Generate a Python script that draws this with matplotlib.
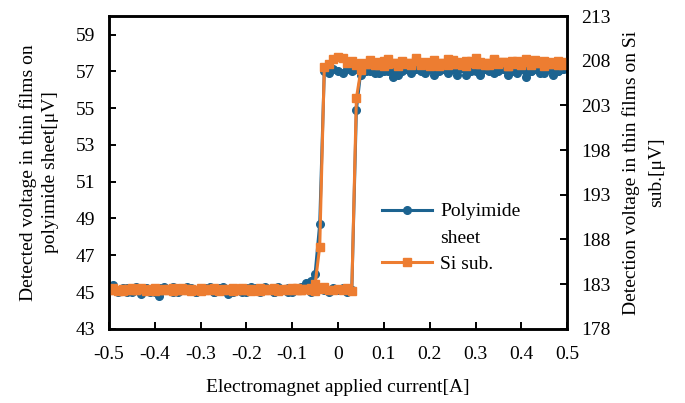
import numpy as np
import matplotlib.pyplot as plt
from matplotlib.lines import Line2D

plt.rcParams['font.family'] = ['Liberation Serif', 'DejaVu Serif']
plt.rcParams['font.size'] = 14

# current sweep settings: up -0.5 -> 0.5, then down 0.5 -> -0.5
current_up = np.round(np.linspace(-0.5, 0.5, 101), 2)
current_down = current_up[::-1]

# Polyimide sheet [uV], left axis
polyimide_up = [
    45.2, 45.4, 45.1, 45.2, 45.0, 45.2, 45.1, 44.9, 45.2, 45.1,
    45.0, 45.2, 45.3, 45.1, 45.0, 45.2, 45.1, 45.3, 45.2, 45.0,
    45.1, 45.2, 45.1, 45.0, 45.2, 45.3, 45.1, 45.0, 45.1, 45.2,
    45.0, 45.1, 45.2, 45.1, 45.3, 45.1, 45.0, 45.2, 45.1, 45.0,
    45.2, 45.1, 45.3, 45.2, 45.0, 45.1, 45.2, 45.1, 45.0, 45.2,
    45.1, 45.2, 45.0, 45.1,
    54.9,
    57.1, 57.0, 57.2, 56.9, 57.1, 57.3, 57.0, 57.1, 56.8, 57.2,
    57.1, 57.0, 57.2, 57.1, 56.9, 57.2, 57.0, 57.1, 57.3, 57.0,
    57.1, 56.8, 57.2, 57.1, 57.0, 57.2, 56.9, 57.1, 57.0, 57.2,
    57.1, 57.3, 57.0, 57.1, 56.9, 57.2, 57.1, 57.0, 57.2, 57.1,
    56.9, 57.1, 57.2, 57.0, 57.1, 57.2,
]
polyimide_down = [
    57.2, 57.1, 57.0, 56.8, 57.1, 57.2, 56.9, 57.1, 57.0, 56.7,
    57.1, 57.2, 57.0, 56.8, 57.1, 57.0, 56.9, 57.2, 57.1, 56.8,
    57.0, 57.1, 56.8, 57.2, 57.0, 57.1, 56.9, 57.1, 57.0, 56.8,
    57.1, 57.2, 57.0, 57.1, 56.9, 57.1, 57.0, 57.2, 56.7, 57.1,
    57.0, 56.9, 57.1, 57.0, 57.2, 56.8, 57.1, 57.0, 57.1, 56.9,
    57.0, 57.1, 56.9, 57.0,
    48.7, 46.0,
    45.6, 45.5, 45.2, 45.1, 45.0, 45.2, 45.1, 45.3, 45.0, 45.1,
    45.2, 45.0, 45.1, 45.3, 45.2, 45.0, 45.1, 45.2, 44.9, 45.1,
    45.2, 45.0, 45.3, 45.1, 45.2, 45.0, 45.1, 45.2, 45.1, 45.0,
    45.3, 45.1, 45.2, 44.8, 45.1, 45.0, 45.2, 45.1, 45.3, 45.0,
    45.2, 45.1, 45.0, 45.3, 45.2,
]

# Si substrate [uV], right axis
si_up = [
    182.5, 182.3, 182.2, 182.5, 182.4, 182.6, 182.3, 182.5, 182.2, 182.4,
    182.6, 182.3, 182.4, 182.5, 182.2, 182.4, 182.6, 182.3, 182.5, 182.4,
    182.2, 182.5, 182.3, 182.6, 182.4, 182.3, 182.5, 182.2, 182.4, 182.6,
    182.3, 182.5, 182.4, 182.2, 182.5, 182.3, 182.6, 182.4, 182.3, 182.5,
    182.4, 182.6, 182.3, 182.5, 182.4, 182.2, 182.5, 182.7, 182.4, 182.3,
    182.5, 182.4, 182.6, 182.2,
    203.8,
    207.0, 207.6, 208.1, 207.5, 207.9, 207.4, 208.2, 207.7, 207.5, 208.0,
    207.6, 207.8, 208.3, 207.5, 207.9, 207.6, 208.1, 207.4, 207.8, 208.2,
    207.6, 207.9, 207.5, 208.0, 207.7, 208.3, 207.6, 207.8, 207.5, 208.1,
    207.7, 207.9, 207.4, 208.0, 207.6, 207.8, 208.2, 207.5, 207.9, 207.7,
    208.0, 207.6, 207.8, 207.5, 207.9, 207.7,
]
si_down = [
    207.8, 207.5, 208.0, 207.6, 207.9, 207.4, 207.8, 208.1, 207.6, 207.9,
    207.5, 208.0, 207.7, 207.4, 207.9, 207.6, 208.2, 207.7, 207.5, 207.9,
    207.6, 208.0, 207.4, 207.8, 207.6, 208.1, 207.5, 207.8, 207.6, 207.9,
    207.4, 207.8, 207.6, 208.0, 207.5, 207.7, 207.9, 207.4, 207.8, 207.6,
    208.0, 207.5, 207.7, 207.9, 207.6, 207.8, 207.5, 208.0, 207.7, 208.3,
    208.4, 208.2, 207.6, 207.3,
    187.2, 183.0,
    182.6, 182.5, 182.3, 182.4, 182.6, 182.3, 182.5, 182.2, 182.4, 182.5,
    182.3, 182.6, 182.4, 182.2, 182.5, 182.3, 182.4, 182.6, 182.3, 182.5,
    182.2, 182.4, 182.5, 182.3, 182.6, 182.4, 182.2, 182.5, 182.3, 182.4,
    182.6, 182.3, 182.5, 182.4, 182.2, 182.5, 182.3, 182.6, 182.4, 182.3,
    182.5, 182.2, 182.4, 182.6, 182.3,
]

BLUE = '#1c6390'
ORANGE = '#ed7d31'

x = np.concatenate([current_up, current_down])

fig = plt.figure(figsize=(6.85, 4.03), dpi=100)
ax = fig.add_axes([0.159, 0.184, 0.669, 0.776])
ax2 = ax.twinx()

ax.plot(x, polyimide_up + polyimide_down, color=BLUE, lw=2.2,
        marker='o', ms=5.5, label='Polyimide sheet')
ax2.plot(x, si_up + si_down, color=ORANGE, lw=2.2,
         marker='s', ms=5.5, label='Si sub.')

ax.set_xlim(-0.5, 0.5)
ax.set_ylim(43, 60)
ax.set_yticks(np.arange(43, 60, 2))
ax.set_xticks(np.round(np.arange(-0.5, 0.51, 0.1), 1))
ax.set_xticklabels(['-0.5', '-0.4', '-0.3', '-0.2', '-0.1', '0',
                    '0.1', '0.2', '0.3', '0.4', '0.5'])
ax2.set_ylim(178, 213)
ax2.set_yticks(np.arange(178, 214, 5))

for a in (ax, ax2):
    for s in a.spines.values():
        s.set_linewidth(1.8)
    a.tick_params(direction='in', length=5, width=1.4, pad=10)
ax.tick_params(axis='x', pad=12)

ax.set_xlabel('Electromagnet applied current[A]', labelpad=12)
ax.set_ylabel('Detected voltage in thin films on\npolyimide sheet[μV]',
              multialignment='center', linespacing=1.45)
ax.yaxis.set_label_coords(-0.108, 0.5)
ax2.set_ylabel('Detection voltage in thin films on Si\nsub.[μV]',
               rotation=90, multialignment='center', linespacing=1.6)
ax2.yaxis.set_label_coords(1.12, 0.5)

handles = [
    Line2D([], [], color=BLUE, lw=2.2, marker='o', ms=5.5),
    Line2D([], [], color='none'),
    Line2D([], [], color=ORANGE, lw=2.2, marker='s', ms=5.5),
]
fig.legend(handles, ['Polyimide', 'sheet', 'Si sub.'], loc='upper left',
           bbox_to_anchor=(372 / 685, 1 - 193 / 403), frameon=False,
           borderpad=0, handlelength=2.6, handletextpad=0.4,
           labelspacing=0.45)

fig.savefig('out.png', dpi=100)
